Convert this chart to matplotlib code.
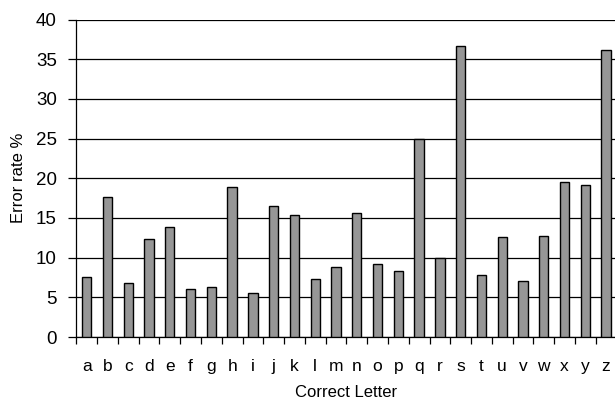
import matplotlib
matplotlib.use("Agg")
import matplotlib.pyplot as plt
import numpy as np

# 字母與錯誤率 (%)
letters = list("abcdefghijklmnopqrstuvwxyz")
error_rate = [7.6, 17.7, 6.8, 12.3, 13.8, 6.0, 6.3, 18.9, 5.6, 16.5,
              15.4, 7.3, 8.8, 15.6, 9.2, 8.3, 25.0, 9.9, 36.7, 7.8,
              12.6, 7.0, 12.7, 19.5, 19.1, 36.2]
y_ticks = [0, 5, 10, 15, 20, 25, 30, 35, 40]

plt.rcParams['font.family'] = ['Liberation Sans', 'DejaVu Sans']

fig = plt.figure(figsize=(6.15, 4.01), dpi=100)
ax = fig.add_axes([76.3 / 615, (401 - 337) / 401, (616.5 - 76.3) / 615, (337 - 19.5) / 401])

x = np.arange(len(letters))
ax.bar(x, error_rate, width=0.45, color='#969696', edgecolor='black', linewidth=1.0, zorder=3)

ax.set_ylim(0, 40)
ax.set_xlim(-0.5, len(letters) - 0.5)
ax.set_yticks(y_ticks)
ax.yaxis.grid(True, color='black', linewidth=0.9, zorder=0)
ax.tick_params(axis='y', length=6, width=0.9, pad=8, labelsize=13.5, direction='out')

# 類別標籤在中間，刻度線在分界
ax.set_xticks(x)
ax.set_xticklabels(letters)
ax.set_xticks(np.arange(-0.5, len(letters)), minor=True)
ax.tick_params(axis='x', which='major', length=0, pad=15.5, labelsize=12.5)
ax.tick_params(axis='x', which='minor', length=5, width=0.9, direction='out')

for side in ['top', 'right']:
    ax.spines[side].set_visible(False)
ax.spines['left'].set_linewidth(0.9)
ax.spines['bottom'].set_linewidth(0.9)

ax.set_xlabel('Correct Letter', fontsize=12, labelpad=8)
ax.set_ylabel('Error rate %', fontsize=12, labelpad=7)

fig.savefig('out.png', dpi=100)
